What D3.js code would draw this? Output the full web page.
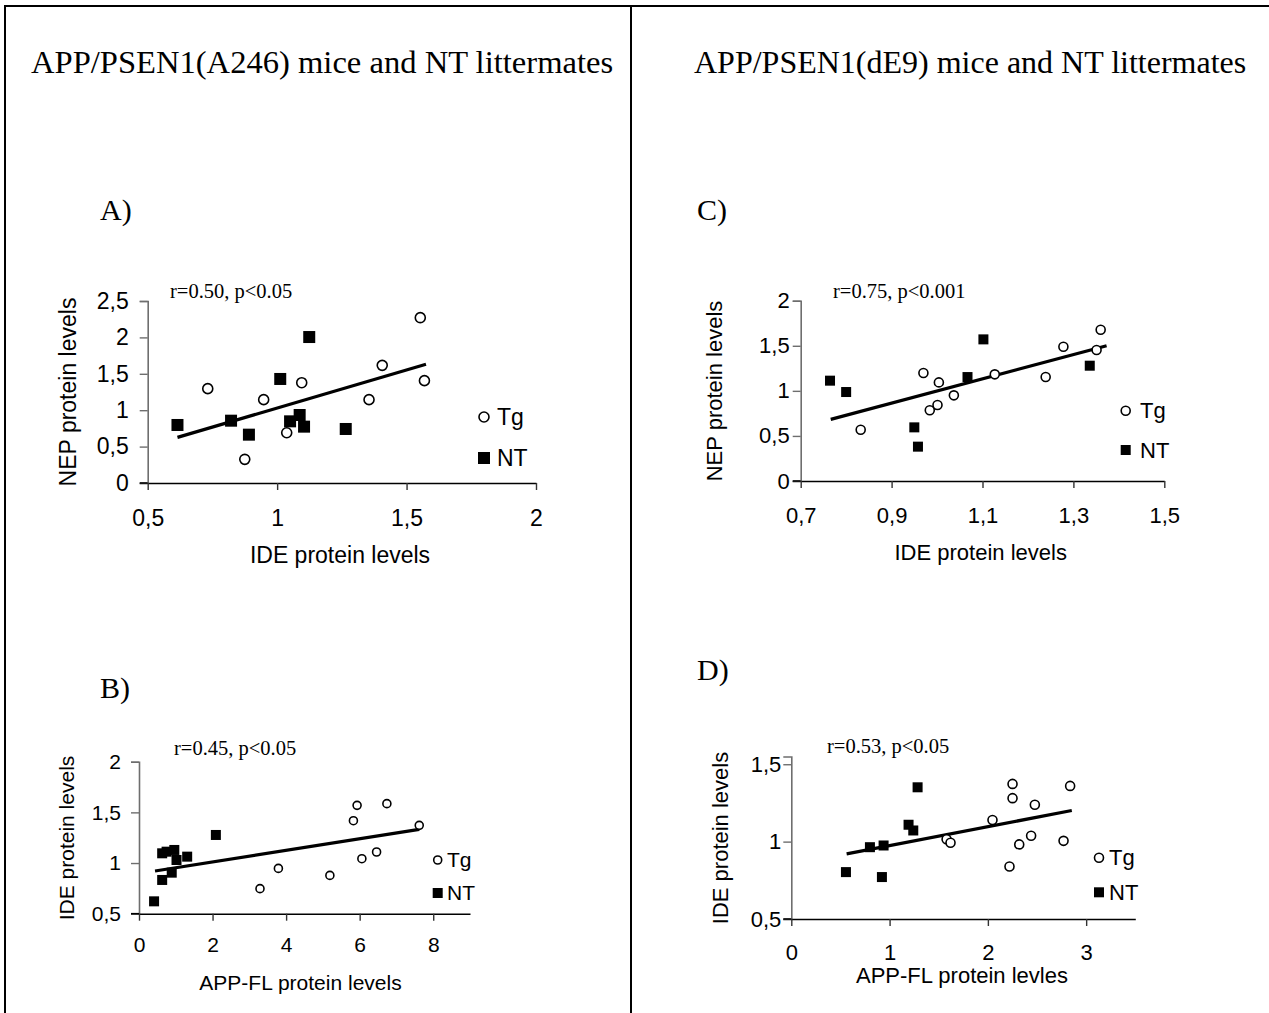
<!DOCTYPE html>
<html><head><meta charset="utf-8">
<script src="https://cdn.jsdelivr.net/npm/d3@7"></script>
<style>body{margin:0;background:#fff}</style>
</head><body>
<script>
// ---------- data ----------
const headers = ["APP/PSEN1(A246) mice and NT littermates", "APP/PSEN1(dE9) mice and NT littermates"];
const panelLetters = ["A)", "B)", "C)", "D)"];
const annotations = ["r=0.50, p<0.05", "r=0.45, p<0.05", "r=0.75, p<0.001", "r=0.53, p<0.05"];
const xLabels = ["IDE protein levels", "APP-FL protein levels", "IDE protein levels", "APP-FL protein levles"];
const yLabels = ["NEP protein levels", "IDE protein levels", "NEP protein levels", "IDE protein levels"];
const legendLabels = ["Tg", "NT"];

const xTicksA = [0.5, 1, 1.5, 2], yTicksA = [0, 0.5, 1, 1.5, 2, 2.5];
const xTicksB = [0, 2, 4, 6, 8], yTicksB = [0.5, 1, 1.5, 2];
const xTicksC = [0.7, 0.9, 1.1, 1.3, 1.5], yTicksC = [0, 0.5, 1, 1.5, 2];
const xTicksD = [0, 1, 2, 3], yTicksD = [0.5, 1, 1.5];

const tgA = [[0.732,1.296],[0.948,1.145],[0.875,0.325],[1.037,0.69],[1.095,1.378],[1.355,1.145],[1.406,1.616],[1.553,2.271],[1.569,1.406]];
const ntA = [[0.615,0.797],[0.822,0.856],[0.891,0.664],[1.012,1.429],[1.124,2.005],[1.050,0.847],[1.087,0.934],[1.104,0.774],[1.265,0.742]];
const fitA = [[0.615,0.627],[1.575,1.630]];

const tgB = [[3.29,0.747],[3.79,0.947],[5.19,0.878],[5.83,1.418],[5.93,1.569],[6.06,1.043],[6.46,1.109],[6.74,1.586],[7.62,1.372]];
const ntB = [[0.41,0.622],[0.63,0.833],[0.63,1.096],[0.75,1.112],[0.96,1.129],[0.89,0.905],[1.02,1.03],[1.31,1.063],[2.09,1.277]];
const fitB = [[0.436,0.921],[7.62,1.332]];

const tgC = [[0.832,0.569],[0.970,1.198],[0.984,0.784],[1.001,0.843],[1.004,1.094],[1.037,0.950],[1.127,1.183],[1.239,1.153],[1.278,1.490],[1.351,1.453],[1.360,1.678]];
const ntC = [[0.7645,1.113],[0.80,0.987],[0.95,0.595],[0.958,0.381],[1.067,1.153],[1.102,1.571],[1.336,1.279]];
const fitC = [[0.766,0.684],[1.373,1.501]];

const tgD = [[1.58,1.016],[1.62,0.993],[2.047,1.140],[2.22,0.839],[2.251,1.373],[2.251,1.281],[2.319,0.982],[2.44,1.038],[2.478,1.238],[2.77,1.005],[2.837,1.360]];
const ntD = [[0.556,0.803],[0.8,0.964],[0.922,0.771],[0.939,0.975],[1.193,1.109],[1.241,1.072],[1.285,1.351]];
const fitD = [[0.563,0.921],[2.854,1.201]];

// ---------- layout ----------
const W = 1269, H = 1013;
const SANS = "'Liberation Sans', Arial, sans-serif";
const SERIF = "'Liberation Serif', 'Times New Roman', serif";

const panels = [
  {tg: tgA, nt: ntA, fit: fitA, xt: xTicksA, yt: yTicksA, xd: [0.5, 2], yd: [0, 2.5],
   xr: [147.7, 536], yr: [483, 301], fs: 23, ytGap: 19, xtBase: 43, cr: 5, sq: 12,
   letter: [100, 220], ann: [170, 298], xl: [340, 563], yl: [68, 392], leg: [484, 417, 458], legTx: 497},
  {tg: tgB, nt: ntB, fit: fitB, xt: xTicksB, yt: yTicksB, xd: [0, 9], yd: [0.5, 2],
   xr: [139, 470], yr: [913.7, 761.7], fs: 21, ytGap: 18, xtBase: 38, cr: 4, sq: 10,
   letter: [100, 698], ann: [174, 755], xl: [300.5, 990], yl: [67, 838], leg: [437.7, 860, 893], legTx: 447},
  {tg: tgC, nt: ntC, fit: fitC, xt: xTicksC, yt: yTicksC, xd: [0.7, 1.5], yd: [0, 2],
   xr: [800.7, 1164.3], yr: [481, 300.7], fs: 22, ytGap: 11, xtBase: 42, cr: 4.5, sq: 10,
   letter: [697, 220], ann: [833, 298], xl: [980.7, 560], yl: [714, 391], leg: [1125.7, 410.7, 450], legTx: 1140},
  {tg: tgD, nt: ntD, fit: fitD, xt: xTicksD, yt: yTicksD, xd: [0, 3.5], yd: [0.5, 1.55],
   xr: [791.3, 1135.3], yr: [919, 756.5], fs: 22, ytGap: 10, xtBase: 41, cr: 4.5, sq: 10,
   letter: [697, 680], ann: [827, 753], xl: [962, 983], yl: [720, 838], leg: [1099, 857.7, 892.3], legTx: 1109}
];

const fmt = d => String(d).replace(".", ",");

const svg = d3.select("body").append("svg").attr("width", W).attr("height", H);

// frame
svg.append("line").attr("x1", 4).attr("x2", W).attr("y1", 6).attr("y2", 6).attr("stroke", "#000").attr("stroke-width", 2);
svg.append("line").attr("x1", 5).attr("x2", 5).attr("y1", 5).attr("y2", H).attr("stroke", "#000").attr("stroke-width", 2);
svg.append("line").attr("x1", 631).attr("x2", 631).attr("y1", 5).attr("y2", H).attr("stroke", "#000").attr("stroke-width", 2);

// headers
svg.append("text").attr("x", 31).attr("y", 73).attr("font-family", SERIF).attr("font-size", 32.6).text(headers[0]);
svg.append("text").attr("x", 694).attr("y", 73).attr("font-family", SERIF).attr("font-size", 32).text(headers[1]);

panels.forEach((p, i) => {
  const g = svg.append("g");
  const x = d3.scaleLinear().domain(p.xd).range(p.xr);
  const y = d3.scaleLinear().domain(p.yd).range(p.yr);

  // letter
  g.append("text").attr("x", p.letter[0]).attr("y", p.letter[1]).attr("font-family", SERIF).attr("font-size", 30).text(panelLetters[i]);
  // annotation
  g.append("text").attr("x", p.ann[0]).attr("y", p.ann[1]).attr("font-family", SERIF).attr("font-size", 20.5).text(annotations[i]);

  // y axis
  const yAx = g.append("g").attr("transform", `translate(${p.xr[0]},0)`)
    .call(d3.axisLeft(y).tickValues(p.yt).tickFormat(fmt).tickSize(8).tickPadding(p.ytGap - 8));
  yAx.select(".domain").attr("stroke", "#6e6e6e").attr("stroke-width", 1.6);
  yAx.selectAll(".tick line").attr("stroke", "#6e6e6e").attr("stroke-width", 1.4);
  yAx.selectAll(".tick text").attr("font-family", SANS).attr("font-size", p.fs).attr("fill", "#000");

  // x axis
  const xAx = g.append("g").attr("transform", `translate(0,${p.yr[0]})`)
    .call(d3.axisBottom(x).tickValues(p.xt).tickFormat(fmt).tickSize(7).tickSizeOuter(0).tickPadding(0));
  xAx.select(".domain").attr("stroke", "#000").attr("stroke-width", 1.6);
  xAx.selectAll(".tick line").attr("stroke", "#333").attr("stroke-width", 1.4);
  xAx.selectAll(".tick text").attr("font-family", SANS).attr("font-size", p.fs).attr("fill", "#000")
    .attr("dy", null).attr("y", p.xtBase);
  g.append("line").attr("x1", p.xr[0] - 8).attr("x2", p.xr[0]).attr("y1", p.yr[0]).attr("y2", p.yr[0])
    .attr("stroke", "#000").attr("stroke-width", 1.6);

  // axis titles
  g.append("text").attr("x", p.xl[0]).attr("y", p.xl[1]).attr("text-anchor", "middle")
    .attr("font-family", SANS).attr("font-size", p.fs).text(xLabels[i]);
  g.append("text").attr("transform", `translate(${p.yl[0]},${p.yl[1]}) rotate(-90)`)
    .attr("text-anchor", "middle").attr("dy", "0.35em")
    .attr("font-family", SANS).attr("font-size", p.fs).text(yLabels[i]);

  // regression line
  g.append("path").datum(p.fit)
    .attr("d", d3.line().x(d => x(d[0])).y(d => y(d[1])))
    .attr("stroke", "#000").attr("stroke-width", 3.2).attr("fill", "none");

  // NT squares
  g.selectAll(".nt").data(p.nt).join("rect")
    .attr("x", d => x(d[0]) - p.sq / 2).attr("y", d => y(d[1]) - p.sq / 2)
    .attr("width", p.sq).attr("height", p.sq).attr("fill", "#000");
  // Tg circles
  g.selectAll(".tg").data(p.tg).join("circle")
    .attr("cx", d => x(d[0])).attr("cy", d => y(d[1])).attr("r", p.cr)
    .attr("fill", "#fff").attr("stroke", "#000").attr("stroke-width", 1.6);

  // legend
  g.append("circle").attr("cx", p.leg[0]).attr("cy", p.leg[1]).attr("r", p.cr)
    .attr("fill", "#fff").attr("stroke", "#000").attr("stroke-width", 1.6);
  g.append("rect").attr("x", p.leg[0] - p.sq / 2).attr("y", p.leg[2] - p.sq / 2)
    .attr("width", p.sq).attr("height", p.sq).attr("fill", "#000");
  g.append("text").attr("x", p.legTx).attr("y", p.leg[1]).attr("dy", "0.35em")
    .attr("font-family", SANS).attr("font-size", p.fs).text(legendLabels[0]);
  g.append("text").attr("x", p.legTx).attr("y", p.leg[2]).attr("dy", "0.35em")
    .attr("font-family", SANS).attr("font-size", p.fs).text(legendLabels[1]);
});
</script>
</body></html>
